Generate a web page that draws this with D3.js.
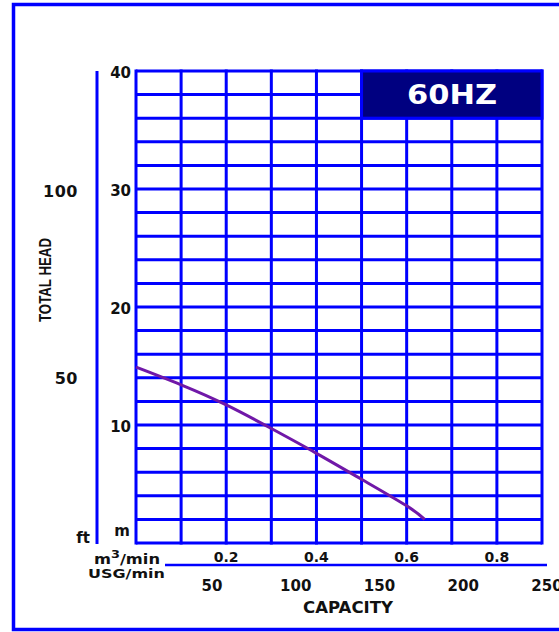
<!DOCTYPE html>
<html>
<head>
<meta charset="utf-8">
<script src="https://cdn.jsdelivr.net/npm/d3@7"></script>
<style>
  html, body { margin: 0; padding: 0; background: #fff; }
  svg text { font-family: "DejaVu Sans", Verdana, sans-serif; font-weight: bold; fill: #111; }
</style>
</head>
<body>
<svg id="chart" width="559" height="632"></svg>
<script>
// pump curve, 60Hz
var flowM3 = [0, 0.1, 0.2, 0.3, 0.4, 0.5, 0.6, 0.64];
var headM = [14.9, 13.4, 11.7, 9.7, 7.6, 5.4, 3.15, 2.0];

var m3Ticks = [0.2, 0.4, 0.6, 0.8];
var usgTicks = [50, 100, 150, 200, 250];
var mTicks = [10, 20, 30, 40];
var ftTicks = [50, 100];

var blue = "#0000ff";
var svg = d3.select("#chart");

var x = d3.scaleLinear().domain([0, 0.9]).range([136, 542]);
var y = d3.scaleLinear().domain([0, 40]).range([543, 71]);
var xUsg = d3.scaleLinear().domain([50, 250]).range([212, 547]);
var yFt = d3.scaleLinear().domain([50, 100]).range([377.5, 191]);

// outer frame
svg.append("rect")
  .attr("x", 13.5).attr("y", 4.5)
  .attr("width", 570).attr("height", 625)
  .attr("fill", "none").attr("stroke", blue).attr("stroke-width", 3.5);

// grid
var g = svg.append("g").attr("id", "gGrid");
g.selectAll("line.v")
  .data(d3.range(0, 10).map(function(i){ return i / 10; }))
  .enter().append("line")
  .attr("class", "v")
  .attr("x1", function(d){ return x(d); }).attr("x2", function(d){ return x(d); })
  .attr("y1", y(40) - 1.5).attr("y2", y(0) + 1.5)
  .attr("stroke", blue).attr("stroke-width", 3);
g.selectAll("line.h")
  .data(d3.range(0, 41, 2))
  .enter().append("line")
  .attr("class", "h")
  .attr("x1", x(0)).attr("x2", x(0.9))
  .attr("y1", function(d){ return y(d); }).attr("y2", function(d){ return y(d); })
  .attr("stroke", blue).attr("stroke-width", 3);

// 60HZ box
svg.append("rect")
  .attr("x", x(0.5)).attr("y", y(40))
  .attr("width", x(0.9) - x(0.5)).attr("height", y(36) - y(40))
  .attr("fill", "#000080").attr("stroke", blue).attr("stroke-width", 3);
svg.append("text")
  .attr("x", 452).attr("y", 104)
  .attr("text-anchor", "middle")
  .attr("font-size", 26)
  .attr("textLength", 90)
  .attr("lengthAdjust", "spacingAndGlyphs")
  .style("fill", "#fff")
  .text("60HZ");

// curve
var line = d3.line()
  .x(function(d, i){ return x(flowM3[i]); })
  .y(function(d){ return y(d); })
  .curve(d3.curveNatural);
svg.append("path")
  .attr("d", line(headM))
  .attr("fill", "none")
  .attr("stroke", "#7018a8")
  .attr("stroke-width", 3);

// left m axis labels
svg.selectAll("text.m")
  .data(mTicks)
  .enter().append("text")
  .attr("class", "m")
  .attr("x", 131)
  .attr("y", function(d){ return y(d) + 7; })
  .attr("text-anchor", "end")
  .attr("font-size", 15)
  .text(function(d){ return d; });
svg.append("text").attr("x", 130).attr("y", 536)
  .attr("text-anchor", "end").attr("font-size", 15).text("m");

// ft axis
svg.append("line")
  .attr("x1", 97).attr("x2", 97)
  .attr("y1", y(40)).attr("y2", y(0) + 1)
  .attr("stroke", blue).attr("stroke-width", 3);
svg.selectAll("text.ft")
  .data(ftTicks)
  .enter().append("text")
  .attr("class", "ft")
  .attr("x", 78)
  .attr("y", function(d){ return yFt(d) + 6; })
  .attr("text-anchor", "end")
  .attr("font-size", 16)
  .attr("letter-spacing", 0.5)
  .text(function(d){ return d; });
svg.append("text").attr("x", 90).attr("y", 543)
  .attr("text-anchor", "end").attr("font-size", 15).text("ft");

svg.append("text")
  .attr("transform", "translate(51,280) rotate(-90)")
  .attr("text-anchor", "middle")
  .attr("font-size", 17)
  .attr("textLength", 84)
  .attr("lengthAdjust", "spacingAndGlyphs")
  .style("font-family", "'Liberation Sans Narrow', 'Liberation Sans', sans-serif")
  .text("TOTAL HEAD");

// m3/min labels
svg.selectAll("text.q")
  .data(m3Ticks)
  .enter().append("text")
  .attr("class", "q")
  .attr("x", function(d){ return x(d); })
  .attr("y", 562)
  .attr("text-anchor", "middle")
  .attr("font-size", 14)
  .text(function(d){ return d3.format(".1f")(d); });

var unit = svg.append("text").attr("x", 160).attr("y", 564)
  .attr("text-anchor", "end").attr("font-size", 14)
  .attr("textLength", 66).attr("lengthAdjust", "spacingAndGlyphs");
unit.append("tspan").text("m");
unit.append("tspan").attr("dy", -6).attr("font-size", 11).text("3");
unit.append("tspan").attr("dy", 6).text("/min");
svg.append("text").attr("x", 165).attr("y", 578)
  .attr("text-anchor", "end").attr("font-size", 13)
  .attr("textLength", 77)
  .attr("lengthAdjust", "spacingAndGlyphs")
  .text("USG/min");

// USG axis
svg.append("line")
  .attr("x1", 165).attr("x2", 547)
  .attr("y1", 565).attr("y2", 565)
  .attr("stroke", blue).attr("stroke-width", 2.5);
svg.selectAll("text.usg")
  .data(usgTicks)
  .enter().append("text")
  .attr("class", "usg")
  .attr("x", function(d){ return xUsg(d); })
  .attr("y", 591)
  .attr("text-anchor", "middle")
  .attr("font-size", 15)
  .text(function(d){ return d; });

svg.append("text")
  .attr("x", 348).attr("y", 613)
  .attr("text-anchor", "middle")
  .attr("font-size", 15)
  .attr("textLength", 90)
  .attr("lengthAdjust", "spacingAndGlyphs")
  .text("CAPACITY");
</script>
</body>
</html>
